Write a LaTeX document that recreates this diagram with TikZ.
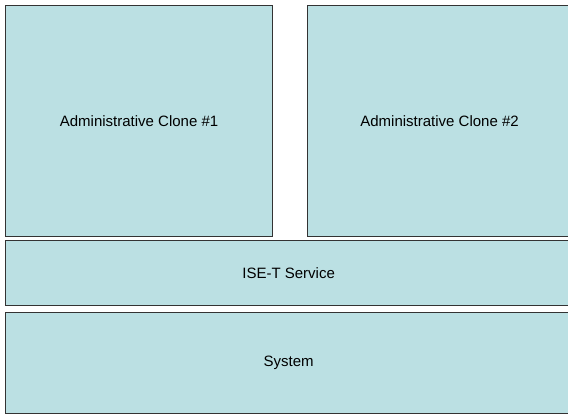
\documentclass[tikz,border=0pt]{standalone}
\usepackage{fontspec}
\setmainfont{Liberation Sans}
\usetikzlibrary{positioning}
\definecolor{layerfill}{RGB}{187,224,227}
\tikzstyle{layer} = [rectangle, draw=black!80, fill=layerfill, line width=1.2pt, inner sep=0pt, anchor=north west, font=\fontsize{15}{17}\selectfont]

\begin{document}
\begin{tikzpicture}[x=1pt, y=-1pt]

    \useasboundingbox (0,0) rectangle (568,415);

    \node (clone1) [layer, minimum width=267pt, minimum height=231pt] at (5,5) {Administrative Clone \#1};
    \node (clone2) [layer, minimum width=264pt, minimum height=231pt] at (307,5) {Administrative Clone \#2};

    \node (iset) [layer, minimum width=566pt, minimum height=65pt] at (5,240) {ISE-T Service};
    \node (system) [layer, minimum width=566pt, minimum height=101pt] at (5,312) {System};

\end{tikzpicture}
\end{document}
